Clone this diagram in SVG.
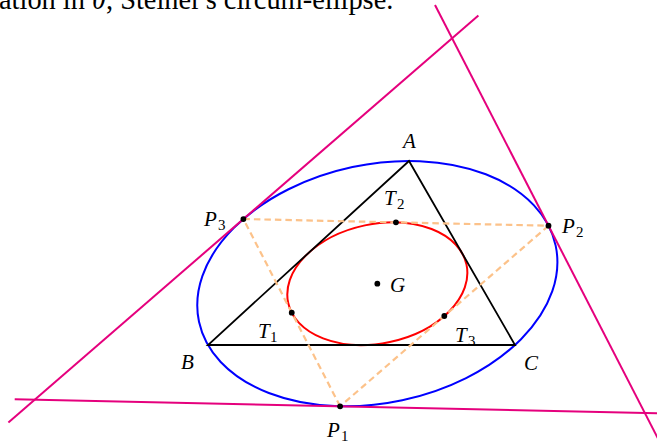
<svg xmlns="http://www.w3.org/2000/svg" width="657" height="442" viewBox="0 0 657 442">
<style>
.lbl{font-family:"Liberation Serif","Times New Roman",serif;font-style:italic;font-size:21px;fill:#000}
.sub{font-style:normal;font-size:15px}
.dot{fill:#000}
.tan{stroke:#e5007d;stroke-width:2;fill:none}
.dash{stroke:#fcc28a;stroke-width:2.2;stroke-dasharray:6.5 4;fill:none}
.tri{stroke:#000;stroke-width:1.8;fill:none;stroke-linejoin:miter}
.title{font-family:"Liberation Serif","Times New Roman",serif;font-size:28.4px;fill:#000}
</style>
<rect width="657" height="442" fill="#fff"/>
<text class="title" x="-1" y="9">ation in <tspan font-style="italic">θ</tspan>, Steiner's circum-ellipse.</text>

<g id="circumellipse">
<ellipse cx="377.33" cy="283.67" rx="182.35" ry="119.24" transform="rotate(-12.05 377.33 283.67)" fill="none" stroke="#0000ff" stroke-width="2"/>
</g>
<g id="inellipse">
<ellipse cx="377.33" cy="283.67" rx="91.18" ry="59.62" transform="rotate(-12.05 377.33 283.67)" fill="none" stroke="#ff0000" stroke-width="2"/>
</g>
<g id="triangle">
<polygon class="tri" points="409,161 208,345 515,345"/>
</g>

<g id="connectors">
<line class="dash" x1="243.38" y1="219.03" x2="548.51" y2="225.70"/>
<line class="dash" x1="548.51" y1="225.70" x2="340.11" y2="406.28"/>
<line class="dash" x1="340.11" y1="406.28" x2="243.38" y2="219.03"/>
<line class="tan" x1="14.7" y1="399.2" x2="665.5" y2="413.4"/>
<line class="tan" x1="435" y1="5" x2="662" y2="446.4"/>
<line class="tan" x1="478.4" y1="15.4" x2="8.4" y2="422.6"/>
</g>

<g id="A"><text class="lbl" x="409.5" y="148" text-anchor="middle">A</text></g>
<g id="B"><text class="lbl" x="181" y="369">B</text></g>
<g id="C"><text class="lbl" x="524" y="370">C</text></g>
<g id="G"><circle class="dot" cx="377.33" cy="283.67" r="2.9"/><text class="lbl" x="390" y="292">G</text></g>
<g id="P1"><circle class="dot" cx="340.11" cy="406.28" r="2.9"/><text class="lbl" x="327" y="437">P<tspan class="sub" x="341" dy="4">1</tspan></text></g>
<g id="P2"><circle class="dot" cx="548.51" cy="225.70" r="2.9"/><text class="lbl" x="562" y="233">P<tspan class="sub" x="576" dy="4">2</tspan></text></g>
<g id="P3"><circle class="dot" cx="243.38" cy="219.03" r="2.9"/><text class="lbl" x="204" y="226">P<tspan class="sub" x="218" dy="4">3</tspan></text></g>
<g id="T1"><circle class="dot" cx="291.75" cy="312.65" r="2.9"/><text class="lbl" x="258" y="338">T<tspan class="sub" x="270" dy="4">1</tspan></text></g>
<g id="T2"><circle class="dot" cx="395.95" cy="222.37" r="2.9"/><text class="lbl" x="384" y="205">T<tspan class="sub" x="397" dy="4">2</tspan></text></g>
<g id="T3"><circle class="dot" cx="444.31" cy="315.99" r="2.9"/><text class="lbl" x="455" y="342">T<tspan class="sub" x="468" dy="4">3</tspan></text></g>
</svg>
